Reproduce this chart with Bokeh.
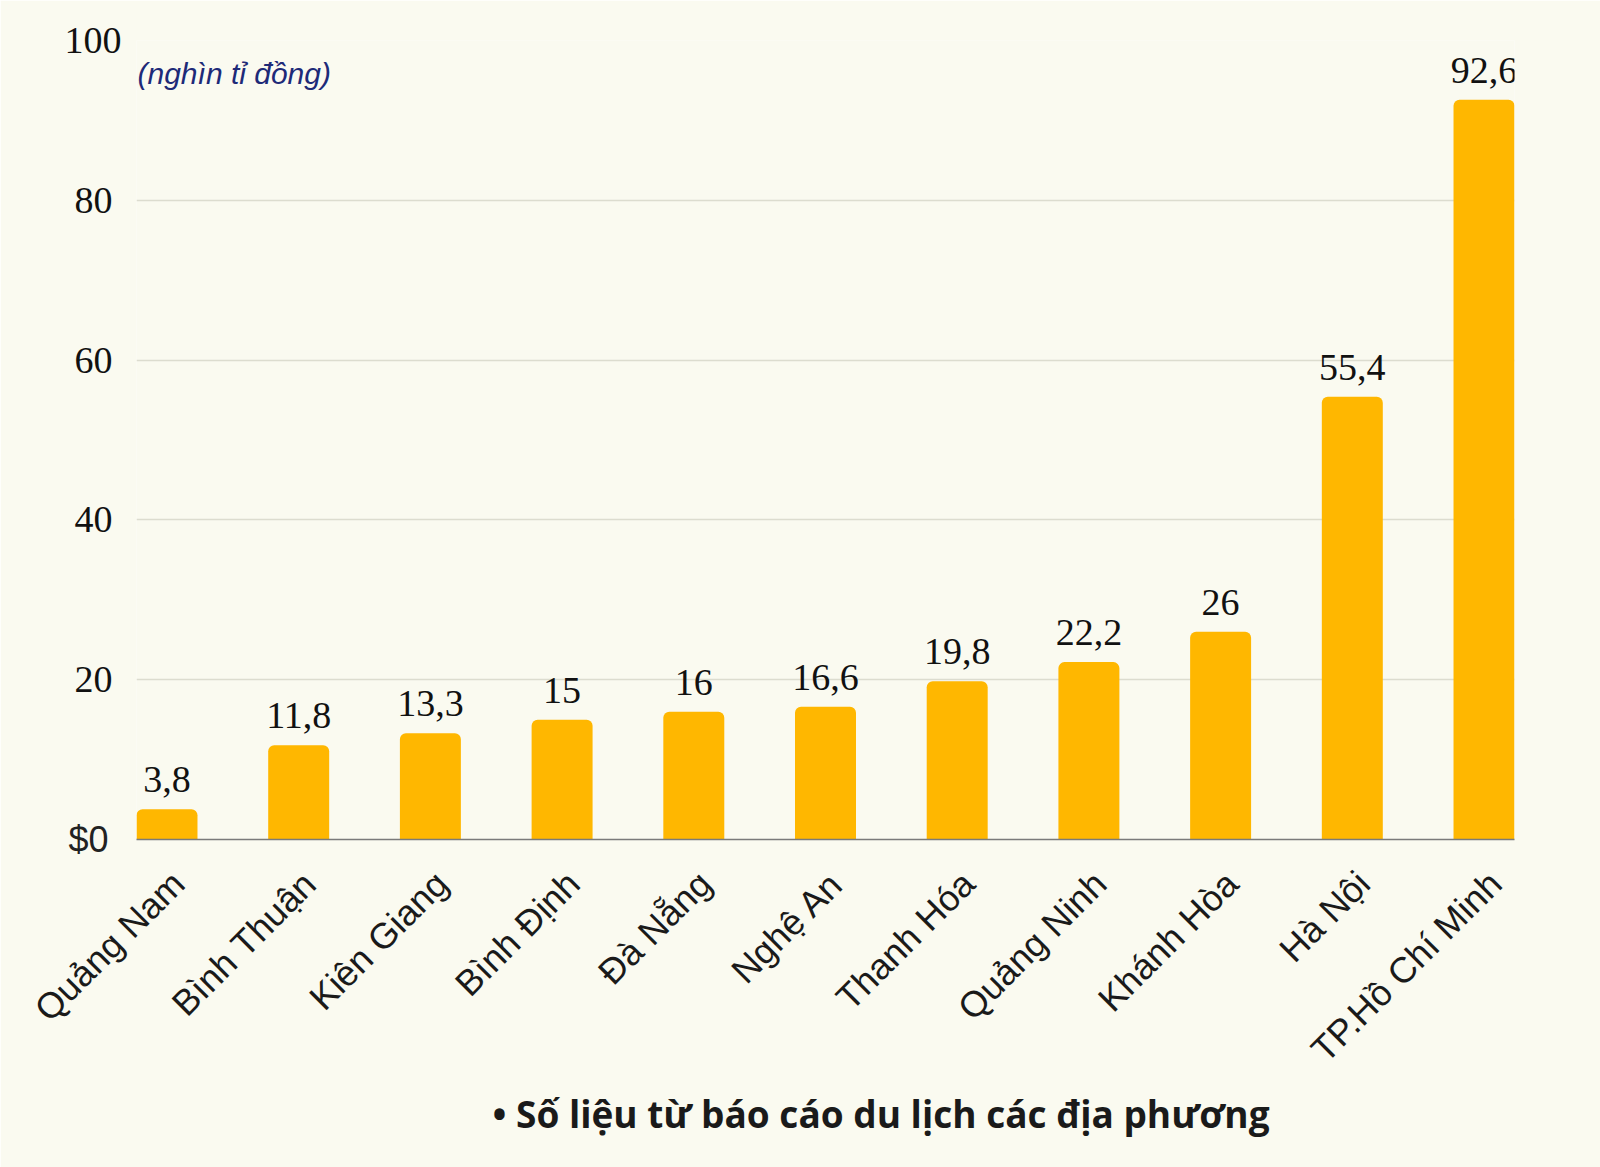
import math
from bokeh.plotting import figure
from bokeh.models import (Range1d, FixedTicker, ColumnDataSource, LabelSet, Label,
                          LinearAxis, Title)
from bokeh.embed import file_html
from bokeh.resources import INLINE

# ---- data ----
provinces = ["Quảng Nam", "Bình Thuận", "Kiên Giang", "Bình Định", "Đà Nẵng",
             "Nghệ An", "Thanh Hóa", "Quảng Ninh", "Khánh Hòa", "Hà Nội",
             "TP.Hồ Chí Minh"]
revenue = [3.8, 11.8, 13.3, 15, 16, 16.6, 19.8, 22.2, 26, 55.4, 92.6]
value_labels = ["3,8", "11,8", "13,3", "15", "16", "16,6", "19,8", "22,2",
                "26", "55,4", "92,6"]
grid_ticks = [0, 20, 40, 60, 80, 100]
y_ticks = [20, 40, 60, 80]
top_tick = [100]
zero_tick = [0]
zero_label = "$0"
unit_label = "(nghìn tỉ đồng)"
footer = "• Số liệu từ báo cáo du lịch các địa phương"

BG = "#fafaf0"
BAR = "#ffb700"
BAR_W = 0.463
LABEL_SHIFT = 0.085  # rotated category labels sit slightly right of bar centre

positions = list(range(len(provinces)))
src = ColumnDataSource(dict(x=positions, top=revenue, label=value_labels))

p = figure(width=1600, height=1167, output_backend="svg", toolbar_location=None,
           x_range=Range1d(-BAR_W / 2, positions[-1] + BAR_W / 2),
           y_range=Range1d(0, 100),
           min_border_left=136, min_border_right=86,
           min_border_top=40, min_border_bottom=328,
           background_fill_color=BG, border_fill_color=BG)
p.outline_line_color = None

p.vbar(x="x", top="top", bottom=0, width=BAR_W, source=src,
       fill_color=BAR, line_color=None, border_radius=(6, 6, 0, 0))

# value labels
p.add_layout(LabelSet(x="x", y="top", text="label", source=src, y_offset=17,
                      text_align="center", text_baseline="alphabetic",
                      text_font="Liberation Serif", text_font_size="38px",
                      text_color="#111111"))

# grid
p.xgrid.visible = False
p.ygrid.ticker = FixedTicker(ticks=grid_ticks)
p.ygrid.grid_line_color = "#dcdccf"
p.ygrid.grid_line_width = 1.5


def style_y(ax, standoff, font, size, color):
    ax.axis_line_color = None
    ax.major_tick_line_color = None
    ax.minor_tick_line_color = None
    ax.major_tick_out = 0
    ax.major_tick_in = 0
    ax.minor_tick_out = 0
    ax.major_label_standoff = standoff
    ax.major_label_text_font = font
    ax.major_label_text_font_size = size
    ax.major_label_text_color = color


# y axis: 20..80 (serif)
p.yaxis.ticker = FixedTicker(ticks=y_ticks)
style_y(p.yaxis[0], 24, "Liberation Serif", "38px", "#111111")

# "100" label (serif, sits a little further right)
ax100 = LinearAxis(ticker=FixedTicker(ticks=top_tick))
style_y(ax100, -50, "Liberation Serif", "38px", "#111111")
p.add_layout(ax100, "left")

# "$0" label (sans font)
zax = LinearAxis(ticker=FixedTicker(ticks=zero_tick),
                 major_label_overrides={0: zero_label})
style_y(zax, -47, "Liberation Sans", "36px", "#222222")
p.add_layout(zax, "left")

# x axis
label_ticks = [i + LABEL_SHIFT for i in positions]
p.xaxis.ticker = FixedTicker(ticks=label_ticks)
p.xaxis.major_label_overrides = {t: n for t, n in zip(label_ticks, provinces)}
p.xaxis.major_label_orientation = math.pi / 4
p.xaxis.axis_line_color = "#7a7a7a"
p.xaxis.axis_line_width = 1.5
p.xaxis.major_tick_line_color = None
p.xaxis.minor_tick_line_color = None
p.xaxis.major_label_standoff = 32
p.xaxis.major_label_text_font = "Liberation Sans"
p.xaxis.major_label_text_font_size = "36px"
p.xaxis.major_label_text_color = "#1a1a1a"

# unit label
p.add_layout(Label(x=p.x_range.start, y=100, text=unit_label, x_offset=1,
                   y_offset=-16, text_align="left", text_baseline="top",
                   text_font="Liberation Sans", text_font_style="italic",
                   text_font_size="30px", text_color="#1e2a78"))

# footer
p.add_layout(Title(text=footer, align="left", offset=356, standoff=-4,
                   text_font="Open Sans", text_font_style="bold",
                   text_font_size="37px", text_color="#1a1a1a"), "below")

open("out.html", "w").write(file_html(p, INLINE))
